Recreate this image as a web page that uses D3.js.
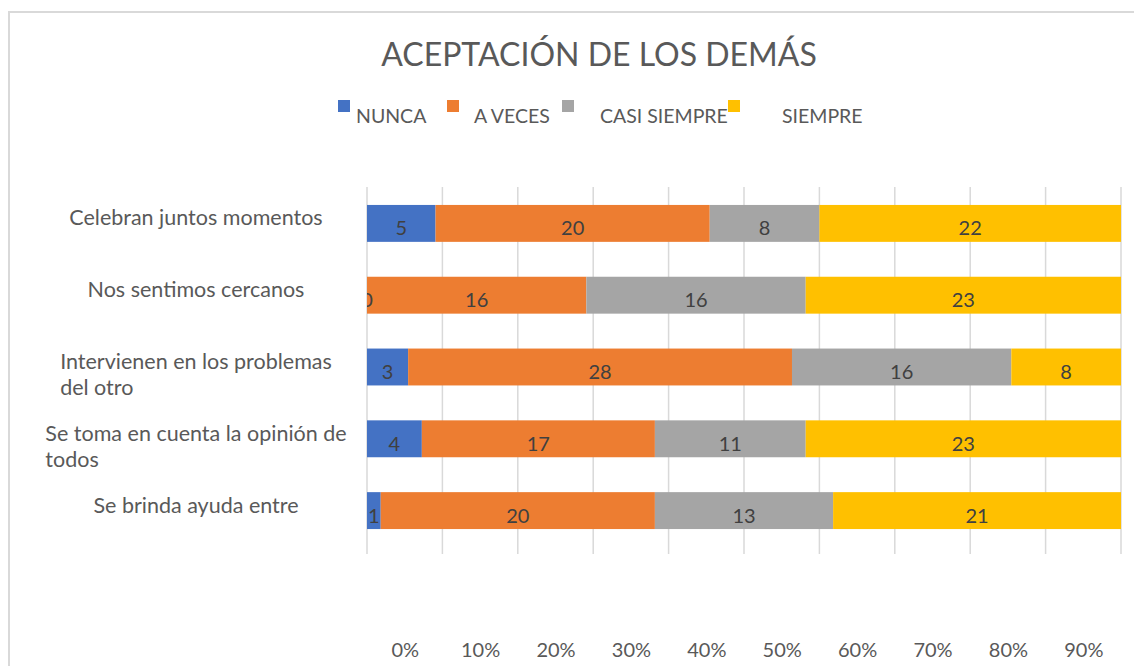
<!DOCTYPE html>
<html>
<head>
<meta charset="utf-8">
<script src="https://cdn.jsdelivr.net/npm/d3@7"></script>
<style>
  body { margin: 0; background: #fff; }
  text { font-family: Lato, "Open Sans", sans-serif; }
</style>
</head>
<body>
<div id="chart"></div>
<script>
const width = 1134
const height = 666

// data
const categories = [
    "Celebran juntos momentos",
    "Nos sentimos cercanos",
    "Intervienen en los problemas\ndel otro",
    "Se toma en cuenta la opinión de\ntodos",
    "Se brinda ayuda entre"
]
const seriesNames = ["NUNCA", "A VECES", "CASI SIEMPRE", "SIEMPRE"]
const nunca = [5, 0, 3, 4, 1]
const aVeces = [20, 16, 28, 17, 20]
const casiSiempre = [8, 16, 16, 11, 13]
const siempre = [22, 23, 8, 23, 21]
const tickValues = [0, 0.1, 0.2, 0.3, 0.4, 0.5, 0.6, 0.7, 0.8, 0.9]

const colors = ["#4472C4", "#ED7D31", "#A5A5A5", "#FFC000"]
const legendSquareX = [338, 447, 562, 728]
const legendTextX = [356, 474, 600, 782]

const plot = { left: 367, right: 1121, top: 187, bottom: 547 }
const gridBottom = 554

const svg = d3.select("div#chart").append("svg").attr("width", width).attr("height", height)

// chart frame
svg.append("rect").attr("x", 9).attr("y", 12).attr("width", width + 20).attr("height", height + 20)
    .attr("fill", "none").attr("stroke", "#d9d9d9").attr("stroke-width", 2)

const table = categories.map((c, i) => ({
    cat: c, NUNCA: nunca[i], "A VECES": aVeces[i], "CASI SIEMPRE": casiSiempre[i], SIEMPRE: siempre[i]
}))
const stacked = d3.stack().keys(seriesNames).offset(d3.stackOffsetExpand)(table)

const x = d3.scaleLinear().domain([0, 1]).range([plot.left, plot.right])
const y = d3.scaleBand().domain(categories).range([plot.top, plot.bottom]).paddingInner(0.486).paddingOuter(0.25)

// gridlines
const gridGroup = svg.append("g").attr("id", "grid")
gridGroup.selectAll("line").data(d3.range(0, 1.0001, 0.1)).enter().append("line")
    .attr("x1", d => x(d)).attr("x2", d => x(d))
    .attr("y1", plot.top).attr("y2", gridBottom)
    .attr("stroke", "#d9d9d9").attr("stroke-width", 1.5)

// bars
const barGroup = svg.append("g").attr("id", "bars")
barGroup.selectAll("g").data(stacked).enter().append("g")
    .attr("fill", (d, i) => colors[i])
    .selectAll("rect").data(d => d).enter().append("rect")
    .attr("x", d => x(d[0]))
    .attr("y", d => y(d.data.cat))
    .attr("width", d => x(d[1]) - x(d[0]))
    .attr("height", y.bandwidth())

// data labels
svg.append("clipPath").attr("id", "plotClip").append("rect")
    .attr("x", plot.left).attr("y", plot.top).attr("width", plot.right - plot.left).attr("height", gridBottom - plot.top)
const labelGroup = svg.append("g").attr("id", "labels").attr("clip-path", "url(#plotClip)")
stacked.forEach((s, si) => {
    labelGroup.selectAll(null).data(s).enter().append("text")
        .attr("x", d => (x(d[0]) + x(d[1])) / 2)
        .attr("y", d => y(d.data.cat) + y.bandwidth() / 2 + 12)
        .attr("text-anchor", "middle")
        .attr("font-size", 20)
        .attr("fill", "#404040")
        .text(d => d.data[s.key])
})

// category labels: block centered, wrapped lines left aligned
const catGroup = svg.append("g").attr("id", "categories")
categories.forEach(c => {
    const lines = c.split("\n")
    const g = catGroup.append("g")
    const texts = lines.map((l, li) => g.append("text")
        .attr("y", y(c) + y.bandwidth() / 2 + 2 + li * 26)
        .attr("font-size", 21.5).attr("fill", "#595959").text(l))
    const w = d3.max(texts, t => t.node().getComputedTextLength())
    texts.forEach(t => t.attr("x", 196 - w / 2))
})

// x axis labels (shifted half a step like the original)
const step = x(0.1) - x(0)
const xAxis = d3.axisBottom(x).tickValues(tickValues).tickFormat(d3.format(".0%")).tickSize(0)
const xAxisGroup = svg.append("g").attr("id", "xAxisGroup").attr("transform", `translate(${step / 2}, 640)`).call(xAxis)
xAxisGroup.select(".domain").remove()
xAxisGroup.selectAll("text").attr("font-size", 20).attr("fill", "#595959").attr("font-family", "Lato, 'Open Sans', sans-serif")

// title
svg.append("text").attr("x", 599).attr("y", 66).attr("text-anchor", "middle")
    .attr("font-size", 32).attr("fill", "#595959").text("ACEPTACIÓN DE LOS DEMÁS")

// legend
const legend = svg.append("g").attr("id", "legend")
seriesNames.forEach((s, i) => {
    legend.append("rect").attr("x", legendSquareX[i]).attr("y", 100).attr("width", 12).attr("height", 12).attr("fill", colors[i])
    legend.append("text").attr("x", legendTextX[i]).attr("y", 123).attr("font-size", 19.5).attr("fill", "#595959").text(s)
})
</script>
</body>
</html>
